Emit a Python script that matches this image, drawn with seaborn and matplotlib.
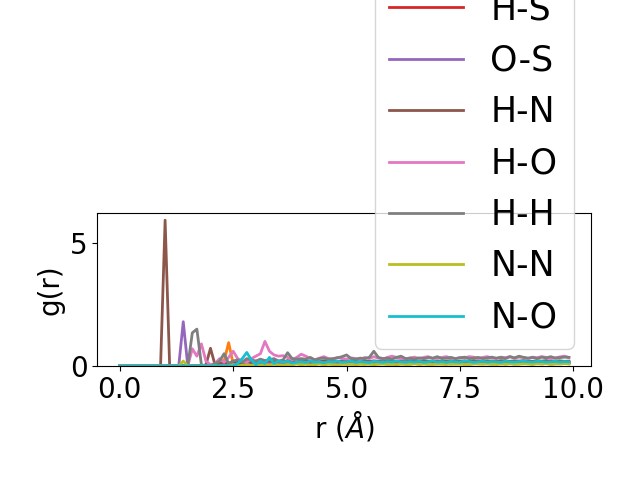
import numpy as np
import matplotlib
matplotlib.use("Agg")
import matplotlib.pyplot as plt
import seaborn as sns

# radial grid (bin centres, 0.1 A spacing)
r = np.round(np.arange(0, 10, 0.1), 1)

pairs = ["S-S", "N-S", "O-O", "H-S", "O-S", "H-N", "H-O", "H-H", "N-N", "N-O"]

g_SS = [0, 0, 0, 0, 0, 0, 0, 0, 0, 0,
        0, 0, 0, 0, 0, 0, 0, 0, 0, 0,
        0, 0, 0, 0, 0, 0, 0.05, 0.1, 0.05, 0.08,
        0.1, 0.06, 0.12, 0.08, 0.1, 0.05, 0.1, 0.12, 0.08, 0.1,
        0.12, 0.1, 0.08, 0.13, 0.1, 0.09, 0.12, 0.1, 0.14, 0.1,
        0.11, 0.13, 0.1, 0.12, 0.09, 0.12, 0.14, 0.1, 0.12, 0.11,
        0.13, 0.1, 0.12, 0.14, 0.11, 0.12, 0.1, 0.13, 0.12, 0.11,
        0.12, 0.14, 0.11, 0.12, 0.13, 0.1, 0.12, 0.13, 0.11, 0.12,
        0.13, 0.12, 0.1, 0.12, 0.14, 0.12, 0.11, 0.13, 0.12, 0.12,
        0.11, 0.13, 0.12, 0.1, 0.12, 0.13, 0.12, 0.11, 0.12, 0.13]
g_NS = [0, 0, 0, 0, 0, 0, 0, 0, 0, 0,
        0, 0, 0, 0, 0, 0, 0, 0, 0, 0,
        0, 0, 0, 0.2, 0.95, 0.1, 0.05, 0.1, 0.15, 0.05,
        0.1, 0.15, 0.08, 0.12, 0.1, 0.15, 0.1, 0.12, 0.15, 0.1,
        0.12, 0.1, 0.15, 0.12, 0.1, 0.13, 0.15, 0.1, 0.12, 0.14,
        0.12, 0.1, 0.14, 0.12, 0.15, 0.11, 0.13, 0.12, 0.1, 0.14,
        0.13, 0.12, 0.1, 0.14, 0.12, 0.13, 0.11, 0.14, 0.12, 0.1,
        0.12, 0.14, 0.13, 0.11, 0.12, 0.14, 0.1, 0.13, 0.12, 0.14,
        0.11, 0.13, 0.12, 0.14, 0.1, 0.12, 0.13, 0.11, 0.14, 0.12,
        0.13, 0.11, 0.12, 0.14, 0.12, 0.1, 0.13, 0.12, 0.14, 0.12]
g_OO = [0, 0, 0, 0, 0, 0, 0, 0, 0, 0,
        0, 0, 0, 0, 0, 0, 0, 0, 0, 0,
        0, 0, 0, 0, 0, 0, 0.05, 0.08, 0.1, 0.06,
        0.08, 0.1, 0.07, 0.09, 0.11, 0.08, 0.1, 0.07, 0.09, 0.1,
        0.08, 0.1, 0.09, 0.07, 0.1, 0.09, 0.11, 0.08, 0.1, 0.09,
        0.1, 0.08, 0.09, 0.11, 0.1, 0.08, 0.09, 0.1, 0.11, 0.09,
        0.08, 0.1, 0.09, 0.1, 0.08, 0.11, 0.09, 0.1, 0.08, 0.1,
        0.09, 0.1, 0.11, 0.08, 0.1, 0.09, 0.1, 0.08, 0.09, 0.11,
        0.1, 0.09, 0.08, 0.1, 0.11, 0.09, 0.1, 0.08, 0.1, 0.09,
        0.1, 0.08, 0.11, 0.09, 0.1, 0.08, 0.09, 0.1, 0.11, 0.09]
g_HS = [0, 0, 0, 0, 0, 0, 0, 0, 0, 0,
        0, 0, 0, 0, 0, 0, 0, 0, 0, 0,
        0, 0, 0, 0, 0.1, 0.15, 0.2, 0.12, 0.18, 0.1,
        0.15, 0.2, 0.12, 0.18, 0.15, 0.1, 0.17, 0.2, 0.15, 0.13,
        0.16, 0.18, 0.14, 0.2, 0.15, 0.17, 0.13, 0.18, 0.16, 0.15,
        0.18, 0.14, 0.17, 0.15, 0.2, 0.16, 0.14, 0.18, 0.15, 0.17,
        0.16, 0.19, 0.15, 0.17, 0.14, 0.18, 0.16, 0.15, 0.19, 0.16,
        0.15, 0.17, 0.18, 0.14, 0.16, 0.19, 0.15, 0.17, 0.16, 0.18,
        0.17, 0.15, 0.18, 0.16, 0.14, 0.17, 0.19, 0.15, 0.16, 0.18,
        0.16, 0.17, 0.15, 0.18, 0.16, 0.19, 0.15, 0.17, 0.18, 0.16]
g_OS = [0, 0, 0, 0, 0, 0, 0, 0, 0, 0,
        0, 0, 0, 0, 1.8, 0, 0, 0, 0, 0,
        0, 0, 0.05, 0.1, 0.05, 0.1, 0.15, 0.1, 0.12, 0.08,
        0.12, 0.15, 0.1, 0.14, 0.12, 0.16, 0.11, 0.13, 0.15, 0.12,
        0.14, 0.12, 0.16, 0.13, 0.11, 0.15, 0.13, 0.14, 0.12, 0.16,
        0.13, 0.15, 0.12, 0.14, 0.16, 0.13, 0.12, 0.15, 0.14, 0.13,
        0.15, 0.12, 0.14, 0.16, 0.13, 0.15, 0.14, 0.12, 0.15, 0.14,
        0.13, 0.15, 0.14, 0.16, 0.12, 0.14, 0.15, 0.13, 0.14, 0.16,
        0.14, 0.13, 0.15, 0.14, 0.12, 0.15, 0.14, 0.16, 0.13, 0.14,
        0.15, 0.13, 0.14, 0.16, 0.14, 0.13, 0.15, 0.14, 0.13, 0.15]
g_HN = [0, 0, 0, 0, 0, 0, 0, 0, 0, 0,
        5.93, 0, 0, 0, 0, 0, 0, 0, 0, 0.05,
        0.72, 0.05, 0.1, 0.15, 0.1, 0.2, 0.15, 0.12, 0.2, 0.15,
        0.2, 0.18, 0.15, 0.22, 0.18, 0.2, 0.16, 0.22, 0.19, 0.17,
        0.2, 0.22, 0.18, 0.2, 0.17, 0.21, 0.19, 0.22, 0.18, 0.2,
        0.19, 0.21, 0.18, 0.22, 0.2, 0.18, 0.21, 0.19, 0.2, 0.22,
        0.18, 0.2, 0.21, 0.19, 0.22, 0.2, 0.18, 0.21, 0.2, 0.19,
        0.21, 0.19, 0.2, 0.22, 0.18, 0.2, 0.21, 0.19, 0.22, 0.2,
        0.19, 0.21, 0.2, 0.18, 0.22, 0.2, 0.19, 0.21, 0.2, 0.22,
        0.2, 0.19, 0.21, 0.2, 0.22, 0.19, 0.2, 0.21, 0.19, 0.2]
g_HO = [0, 0, 0, 0, 0, 0, 0, 0, 0, 0,
        0, 0, 0, 0, 0, 0, 0.7, 0.4, 0.9, 0.2,
        0.05, 0.1, 0.3, 0.15, 0.35, 0.6, 0.3, 0.2, 0.15, 0.3,
        0.4, 0.5, 1.0, 0.6, 0.45, 0.4, 0.42, 0.35, 0.25, 0.35,
        0.48, 0.4, 0.3, 0.25, 0.32, 0.38, 0.3, 0.28, 0.35, 0.3,
        0.28, 0.33, 0.3, 0.25, 0.35, 0.3, 0.38, 0.32, 0.28, 0.35,
        0.4, 0.35, 0.3, 0.28, 0.33, 0.36, 0.3, 0.35, 0.38, 0.3,
        0.33, 0.35, 0.38, 0.32, 0.3, 0.35, 0.33, 0.38, 0.36, 0.3,
        0.35, 0.38, 0.32, 0.3, 0.36, 0.34, 0.38, 0.32, 0.36, 0.35,
        0.3, 0.36, 0.34, 0.38, 0.35, 0.3, 0.33, 0.37, 0.4, 0.35]
g_HH = [0, 0, 0, 0, 0, 0, 0, 0, 0, 0,
        0, 0, 0, 0, 0, 0, 1.35, 1.5, 0.05, 0,
        0, 0.1, 0.2, 0.5, 0.1, 0.2, 0.25, 0.15, 0.3, 0.25,
        0.2, 0.28, 0.22, 0.25, 0.3, 0.2, 0.25, 0.54, 0.3, 0.28,
        0.3, 0.28, 0.35, 0.25, 0.3, 0.32, 0.28, 0.3, 0.33, 0.38,
        0.45, 0.3, 0.28, 0.32, 0.3, 0.35, 0.6, 0.35, 0.3, 0.32,
        0.28, 0.35, 0.4, 0.3, 0.32, 0.28, 0.33, 0.3, 0.35, 0.32,
        0.38, 0.3, 0.32, 0.35, 0.3, 0.33, 0.36, 0.3, 0.32, 0.35,
        0.3, 0.33, 0.36, 0.32, 0.35, 0.3, 0.38, 0.33, 0.4, 0.35,
        0.32, 0.35, 0.3, 0.36, 0.33, 0.38, 0.32, 0.34, 0.36, 0.35]
g_NN = [0, 0, 0, 0, 0, 0, 0, 0, 0, 0,
        0, 0, 0, 0, 0.2, 0, 0, 0, 0, 0,
        0, 0, 0, 0, 0, 0.05, 0, 0.03, 0.05, 0.02,
        0.05, 0.03, 0.06, 0.04, 0.07, 0.05, 0.03, 0.06, 0.05, 0.08,
        0.05, 0.07, 0.04, 0.06, 0.08, 0.05, 0.07, 0.06, 0.04, 0.07,
        0.06, 0.08, 0.05, 0.07, 0.06, 0.09, 0.05, 0.07, 0.08, 0.06,
        0.07, 0.05, 0.08, 0.06, 0.07, 0.09, 0.06, 0.08, 0.07, 0.06,
        0.08, 0.07, 0.06, 0.09, 0.07, 0.08, 0.06, 0.07, 0.09, 0.08,
        0.07, 0.09, 0.08, 0.06, 0.08, 0.07, 0.09, 0.08, 0.07, 0.1,
        0.08, 0.07, 0.09, 0.08, 0.1, 0.07, 0.09, 0.08, 0.1, 0.09]
g_NO = [0, 0, 0, 0, 0, 0, 0, 0, 0, 0,
        0, 0, 0, 0, 0, 0, 0, 0, 0, 0,
        0, 0, 0, 0, 0, 0, 0.1, 0.3, 0.55, 0.25,
        0.05, 0.2, 0.1, 0.35, 0.1, 0.2, 0.15, 0.2, 0.12, 0.15,
        0.18, 0.14, 0.2, 0.15, 0.17, 0.13, 0.18, 0.16, 0.2, 0.15,
        0.17, 0.2, 0.15, 0.18, 0.16, 0.14, 0.19, 0.17, 0.15, 0.18,
        0.16, 0.2, 0.17, 0.15, 0.18, 0.16, 0.19, 0.15, 0.17, 0.2,
        0.16, 0.18, 0.15, 0.19, 0.17, 0.16, 0.2, 0.18, 0.15, 0.17,
        0.19, 0.16, 0.18, 0.17, 0.15, 0.19, 0.17, 0.16, 0.18, 0.2,
        0.17, 0.16, 0.19, 0.18, 0.16, 0.17, 0.19, 0.16, 0.18, 0.17]

curves = [g_SS, g_NS, g_OO, g_HS, g_OS, g_HN, g_HO, g_HH, g_NN, g_NO]
colors = sns.color_palette("tab10", len(pairs))

fig = plt.figure(figsize=(6.4, 4.8), dpi=100)
ax = fig.add_axes([0.152, 0.2375, 0.772, 0.319])

for name, g, c in zip(pairs, curves, colors):
    sns.lineplot(x=r, y=g, label=name, color=c, linewidth=2, ax=ax)

ax.set_ylim(bottom=0)
ax.set_xlabel(r"r ($Å$)", fontsize=20)
ax.set_ylabel("g(r)", fontsize=20)
ax.tick_params(labelsize=20)
ax.legend(loc="lower right", fontsize=25, handlelength=2.13)

fig.savefig("out.png", dpi=100)
